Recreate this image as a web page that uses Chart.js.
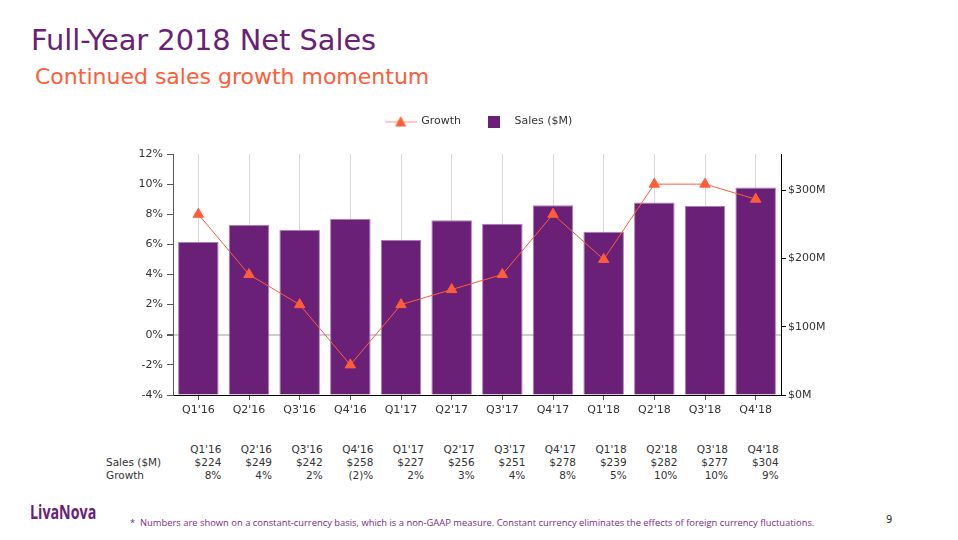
<!DOCTYPE html>
<html>
<head>
<meta charset="utf-8">
<script src="https://cdn.jsdelivr.net/npm/chart.js@4/dist/chart.umd.min.js"></script>
<style>
  html, body { margin:0; padding:0; background:#fff; }
  body { width:958px; height:540px; position:relative; overflow:hidden; font-family:"DejaVu Sans", Verdana, sans-serif; }
  #title { position:absolute; left:31px; top:23px; font-size:28.8px; color:#6B2077; white-space:nowrap; }
  #subtitle { position:absolute; left:35px; top:64px; font-size:22px; color:#FF5C39; white-space:nowrap; }
  #wrap { position:absolute; left:0; top:98px; width:958px; height:325px; }
  .cell { position:absolute; font-size:10.5px; color:#333; white-space:nowrap; line-height:13px; }
  #logo { position:absolute; left:30px; top:499px; font-family:"Open Sans", sans-serif; font-weight:700; font-size:19px; color:#6B2077; transform:scaleX(0.75); transform-origin:0 0; }
  #foot { position:absolute; left:130px; top:516px; font-family:"Open Sans", sans-serif; font-size:9.4px; color:#7B2B88; white-space:nowrap; }
  #page { position:absolute; left:886px; top:514px; font-size:10px; color:#333; }
</style>
</head>
<body>
<div id="title">Full-Year 2018 Net Sales</div>
<div id="subtitle">Continued sales growth momentum</div>
<div id="wrap"><canvas id="c" width="958" height="325"></canvas></div>
<div id="table"></div>
<div id="logo">LivaNova</div>
<div id="foot">*&nbsp; Numbers are shown on a constant-currency basis, which is a non-GAAP measure. Constant currency eliminates the effects of foreign currency fluctuations.</div>
<div id="page">9</div>
<script>
const categories = ["Q1'16","Q2'16","Q3'16","Q4'16","Q1'17","Q2'17","Q3'17","Q4'17","Q1'18","Q2'18","Q3'18","Q4'18"];
const sales = [224, 249, 242, 258, 227, 256, 251, 278, 239, 282, 277, 304];
const growth = [8, 4, 2, -2, 2, 3, 4, 8, 5, 10, 10, 9];
const leftTicks = [-4, 12, 2];      // min, max, step (%)
const rightTicks = [0, 353, 100];   // min, max, step ($M)

const PURPLE = '#6B2077';
const ORANGE = '#FF5C39';
const FONT = "'DejaVu Sans', Verdana, sans-serif";

function icon(w, h, draw) {
  const c = document.createElement('canvas');
  c.width = w; c.height = h;
  draw(c.getContext('2d'));
  return c;
}
const growthIcon = icon(32, 14, g => {
  g.strokeStyle = '#FF9A80'; g.lineWidth = 1;
  g.beginPath(); g.moveTo(0, 7.5); g.lineTo(32, 7.5); g.stroke();
  g.fillStyle = ORANGE;
  g.beginPath(); g.moveTo(16, 1.5); g.lineTo(21.5, 12); g.lineTo(10.5, 12); g.closePath(); g.fill();
});
const salesIcon = icon(12, 12, g => { g.fillStyle = PURPLE; g.fillRect(0, 0, 12, 12); });

const legendSpacer = {
  id:'legendSpacer',
  beforeInit(ch) {
    const lg = ch.legend;
    if (!lg) return;
    const fit = lg.fit.bind(lg);
    lg.fit = function(){ fit(); this.height += 17; };
  }
};

const chart = new Chart(document.getElementById('c'), {
  data: {
    labels: categories,
    datasets: [
      { type:'line', label:'Growth', data:growth, yAxisID:'yL',
        borderColor:ORANGE, backgroundColor:ORANGE, borderWidth:1,
        pointStyle:'triangle', pointRadius:6, pointHoverRadius:6,
        pointBackgroundColor:ORANGE, pointBorderColor:ORANGE },
      { type:'bar', label:'Sales ($M)', data:sales, yAxisID:'yR',
        backgroundColor:PURPLE, borderColor:'#A97FB3', borderWidth:1,
        barPercentage:0.8, categoryPercentage:1.0 }
    ]
  },
  plugins:[legendSpacer],
  options: {
    responsive:false, animation:false,
    layout:{ padding:0 },
    plugins:{
      tooltip:{ enabled:false },
      legend:{
        position:'top',
        labels:{
          font:{ family:FONT, size:11 }, color:'#333', padding:18,
          usePointStyle:true, pointStyleWidth:30,
          generateLabels: ch => ch.data.datasets.map((d, i) => ({
            text:d.label, datasetIndex:i, fontColor:'#333',
            pointStyle: i === 0 ? growthIcon : salesIcon,
            fillStyle:'transparent', strokeStyle:'transparent', lineWidth:0, hidden:false
          }))
        }
      }
    },
    scales:{
      x:{
        offset:true,
        grid:{ offset:false, color:'#D9D9D9', tickColor:'#555', tickLength:5, drawOnChartArea:true },
        border:{ color:'#000', width:1 },
        ticks:{ font:{ family:FONT, size:11 }, color:'#333', padding:4, maxRotation:0 },
        afterFit: s => { s.height = 28; }
      },
      yL:{
        position:'left', min:leftTicks[0], max:leftTicks[1],
        ticks:{ stepSize:leftTicks[2], font:{ family:FONT, size:11 }, color:'#333', padding:4,
                callback: v => v + '%' },
        grid:{ color: ctx => ctx.tick && ctx.tick.value === 0 ? '#CFCFCF' : 'rgba(0,0,0,0)',
               lineWidth: ctx => ctx.tick && ctx.tick.value === 0 ? 2 : 1,
               tickColor:'#595959', tickLength:6 },
        border:{ color:'#595959', width:1 },
        afterFit: s => { s.width = 173; }
      },
      yR:{
        position:'right', min:rightTicks[0], max:rightTicks[1],
        afterBuildTicks: s => { s.ticks = s.ticks.filter(t => t.value % rightTicks[2] === 0); },
        ticks:{ stepSize:rightTicks[2], font:{ family:FONT, size:11 }, color:'#333', padding:2,
                callback: v => '$' + v + 'M' },
        grid:{ drawOnChartArea:false, color:'#000', tickLength:5 },
        border:{ color:'#000', width:1 },
        afterFit: s => { s.width = 177; }
      }
    }
  }
});

// data table below the chart, aligned to the category scale
(function(){
  const tbl = document.getElementById('table');
  const xs = chart.scales.x;
  const fmtG = v => v < 0 ? '(' + Math.abs(v) + ')%' : v + '%';
  const rows = [
    ['', categories],
    ['Sales ($M)', sales.map(v => '$' + v)],
    ['Growth', growth.map(fmtG)]
  ];
  rows.forEach((r, ri) => {
    const y = 443 + ri * 13;
    if (r[0]) {
      const d = document.createElement('div');
      d.className = 'cell'; d.style.left = '106px'; d.style.top = y + 'px'; d.textContent = r[0];
      tbl.appendChild(d);
    }
    r[1].forEach((t, i) => {
      const d = document.createElement('div');
      d.className = 'cell';
      const right = xs.getPixelForValue(i) + 23;
      d.style.left = (right - 60) + 'px'; d.style.width = '60px'; d.style.textAlign = 'right';
      d.style.top = y + 'px'; d.textContent = t;
      tbl.appendChild(d);
    });
  });
})();
</script>
</body>
</html>
